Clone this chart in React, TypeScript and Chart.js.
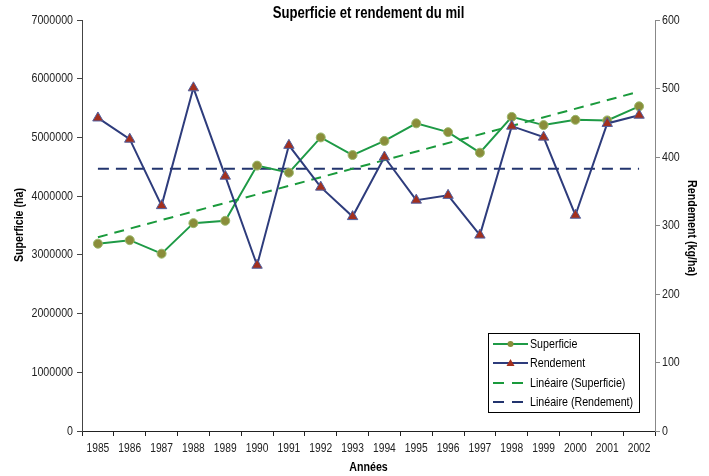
import React, { useEffect, useRef } from "react";
import { Chart, registerables } from "chart.js";

Chart.register(...registerables);

const years = ["1985", "1986", "1987", "1988", "1989", "1990", "1991", "1992", "1993", "1994", "1995", "1996", "1997", "1998", "1999", "2000", "2001", "2002"];
const superficie = [3190000, 3250000, 3020000, 3540000, 3580000, 4520000, 4400000, 5000000, 4700000, 4940000, 5240000, 5090000, 4740000, 5350000, 5210000, 5300000, 5290000, 5530000];
const rendement = [457, 426, 329, 501, 372, 242, 417, 356, 313, 400, 337, 344, 286, 445, 429, 315, 449, 461];
const superficieTrend = [3300000, null, null, null, null, null, null, null, null, null, null, null, null, null, null, null, null, 5780000];
const rendementTrend = [383, null, null, null, null, null, null, null, null, null, null, null, null, null, null, null, null, 383];
const leftMax = 7000000;
const leftStep = 1000000;
const rightMax = 600;
const rightStep = 100;

const title = "Superficie et rendement du mil";
const xTitle = "Années";
const leftTitle = "Superficie (ha)";
const rightTitle = "Rendement (kg/ha)";
const legendLabels = ["Superficie", "Rendement", "Linéaire (Superficie)", "Linéaire (Rendement)"];

const REG = "'Liberation Sans', Arial, sans-serif";
const SQUEEZE = 0.82;

const GREEN = "#1e9a46";
const OLIVE = "#8a8d3a";
const NAVY = "#2e3c7c";
const RED = "#a3301e";
const TGREEN = "#1a9a3c";
const TNAVY = "#22346e";

function narrowText(ctx: any, text: string, x: number, y: number, font: string, align: string, rot = 0) {
  ctx.save();
  ctx.translate(x, y);
  if (rot) ctx.rotate(rot);
  ctx.scale(SQUEEZE, 1);
  ctx.font = font;
  ctx.textAlign = align;
  ctx.textBaseline = "middle";
  ctx.fillText(text, 0, 0);
  ctx.restore();
}

const textPlugin = {
  id: "customTexts",
  afterDraw(chart: any) {
    const { ctx, chartArea, scales } = chart;
    ctx.save();
    ctx.fillStyle = "#000";
    const cx = (chartArea.left + chartArea.right) / 2;
    narrowText(ctx, title, cx, 14, `bold 16px ${REG}`, "center");
    const xs = scales.x;
    ctx.fillStyle = "#222";
    years.forEach((lab, i) => {
      narrowText(ctx, lab, xs.getPixelForValue(i), xs.top + 18, `12.5px ${REG}`, "center");
    });
    const yl = scales.y;
    yl.ticks.forEach((t: any) => {
      narrowText(ctx, String(t.value), yl.right - 9, yl.getPixelForValue(t.value), `13px ${REG}`, "right");
    });
    const yr = scales.y1;
    yr.ticks.forEach((t: any) => {
      narrowText(ctx, String(t.value), yr.left + 7, yr.getPixelForValue(t.value), `13px ${REG}`, "left");
    });
    ctx.fillStyle = "#000";
    narrowText(ctx, xTitle, cx, 467, `bold 13px ${REG}`, "center");
    narrowText(ctx, leftTitle, 19, 225, `bold 13px ${REG}`, "center", -Math.PI / 2);
    narrowText(ctx, rightTitle, 692, 228, `bold 13px ${REG}`, "center", Math.PI / 2);
    ctx.restore();
  },
};

const legendPlugin = {
  id: "customLegend",
  afterDraw(chart: any) {
    const { ctx, chartArea } = chart;
    const w = 151;
    const h = 79;
    const x0 = Math.round(chartArea.right - 16 - w);
    const y0 = Math.round(chartArea.bottom - 19 - h);
    ctx.save();
    ctx.fillStyle = "#fff";
    ctx.fillRect(x0, y0, w, h);
    ctx.strokeStyle = "#000";
    ctx.lineWidth = 1;
    ctx.strokeRect(x0 + 0.5, y0 + 0.5, w, h);
    const rows = [11, 30, 50, 69];
    const lx0 = x0 + 5;
    const lx1 = x0 + 40;
    const mx = (lx0 + lx1) / 2;
    rows.forEach((dy, i) => {
      const y = y0 + dy;
      ctx.lineWidth = 2;
      if (i === 0) {
        ctx.strokeStyle = GREEN;
        ctx.setLineDash([]);
      } else if (i === 1) {
        ctx.strokeStyle = NAVY;
        ctx.setLineDash([]);
      } else if (i === 2) {
        ctx.strokeStyle = TGREEN;
        ctx.setLineDash([11, 8]);
      } else {
        ctx.strokeStyle = TNAVY;
        ctx.setLineDash([11, 8]);
      }
      ctx.beginPath();
      ctx.moveTo(lx0, y);
      ctx.lineTo(lx1, y);
      ctx.stroke();
      ctx.setLineDash([]);
      if (i === 0) {
        ctx.fillStyle = OLIVE;
        ctx.beginPath();
        ctx.arc(mx, y, 3, 0, Math.PI * 2);
        ctx.fill();
      } else if (i === 1) {
        ctx.fillStyle = RED;
        ctx.beginPath();
        ctx.moveTo(mx, y - 4);
        ctx.lineTo(mx + 4, y + 3);
        ctx.lineTo(mx - 4, y + 3);
        ctx.closePath();
        ctx.fill();
      }
      ctx.fillStyle = "#000";
      narrowText(ctx, legendLabels[i], lx1 + 2, y, `13px ${REG}`, "left");
    });
    ctx.restore();
  },
};

export default function App() {
  const ref = useRef<HTMLCanvasElement | null>(null);

  useEffect(() => {
    document.body.style.margin = "0";
    const canvas = ref.current;
    if (!canvas) return;
    const chart = new Chart(canvas, {
      type: "line",
      data: {
        labels: years,
        datasets: [
          {
            label: legendLabels[0],
            data: superficie,
            yAxisID: "y",
            borderColor: GREEN,
            borderWidth: 2,
            backgroundColor: OLIVE,
            pointBackgroundColor: OLIVE,
            pointBorderColor: "#9ab86a",
            pointBorderWidth: 1,
            pointRadius: 4.5,
            pointStyle: "circle",
            tension: 0,
            order: 2,
          },
          {
            label: legendLabels[1],
            data: rendement,
            yAxisID: "y1",
            borderColor: NAVY,
            borderWidth: 2,
            backgroundColor: RED,
            pointBackgroundColor: RED,
            pointBorderColor: "#5060a0",
            pointBorderWidth: 1,
            pointRadius: 6,
            pointStyle: "triangle",
            tension: 0,
            order: 1,
          },
          {
            label: legendLabels[2],
            data: superficieTrend,
            yAxisID: "y",
            borderColor: TGREEN,
            borderWidth: 2,
            borderDash: [10, 7],
            pointRadius: 0,
            spanGaps: true,
            order: 3,
          },
          {
            label: legendLabels[3],
            data: rendementTrend,
            yAxisID: "y1",
            borderColor: TNAVY,
            borderWidth: 2,
            borderDash: [11, 7],
            pointRadius: 0,
            spanGaps: true,
            order: 4,
          },
        ],
      },
      options: {
        responsive: false,
        animation: false,
        layout: { padding: { top: 20, left: 0, right: 0, bottom: 0 } },
        plugins: {
          legend: { display: false },
          title: { display: false },
          tooltip: { enabled: false },
        },
        scales: {
          x: {
            type: "category",
            offset: true,
            grid: {
              display: true,
              drawOnChartArea: false,
              drawTicks: true,
              tickLength: 5,
              color: "#222",
              offset: true,
            },
            border: { display: true, color: "#222", width: 1 },
            ticks: {
              font: { family: REG, size: 12 },
              color: "rgba(0,0,0,0)",
              padding: 6,
              maxRotation: 0,
              autoSkip: false,
            },
            afterFit(scale: any) {
              scale.height = 45;
            },
          },
          y: {
            type: "linear",
            position: "left",
            min: 0,
            max: leftMax,
            grid: {
              display: true,
              drawOnChartArea: false,
              drawTicks: true,
              tickLength: 5,
              color: "#444",
            },
            border: { display: true, color: "#444", width: 1 },
            ticks: {
              stepSize: leftStep,
              font: { family: REG, size: 12 },
              color: "rgba(0,0,0,0)",
              padding: 4,
              callback: (v: any) => String(v),
            },
            afterFit(scale: any) {
              scale.width = 82;
            },
          },
          y1: {
            type: "linear",
            position: "right",
            min: 0,
            max: rightMax,
            grid: {
              display: true,
              drawOnChartArea: false,
              drawTicks: true,
              tickLength: 5,
              color: "#888",
            },
            border: { display: true, color: "#888", width: 1 },
            ticks: {
              stepSize: rightStep,
              font: { family: REG, size: 11 },
              color: "rgba(0,0,0,0)",
              padding: 3,
              callback: (v: any) => String(v),
            },
            afterFit(scale: any) {
              scale.width = 54;
            },
          },
        },
      },
      plugins: [textPlugin, legendPlugin],
    });
    return () => chart.destroy();
  }, []);

  return (
    <div style={{ width: 709, height: 476, position: "relative", background: "#fff" }}>
      <canvas ref={ref} width={709} height={476} style={{ display: "block" }} />
    </div>
  );
}
